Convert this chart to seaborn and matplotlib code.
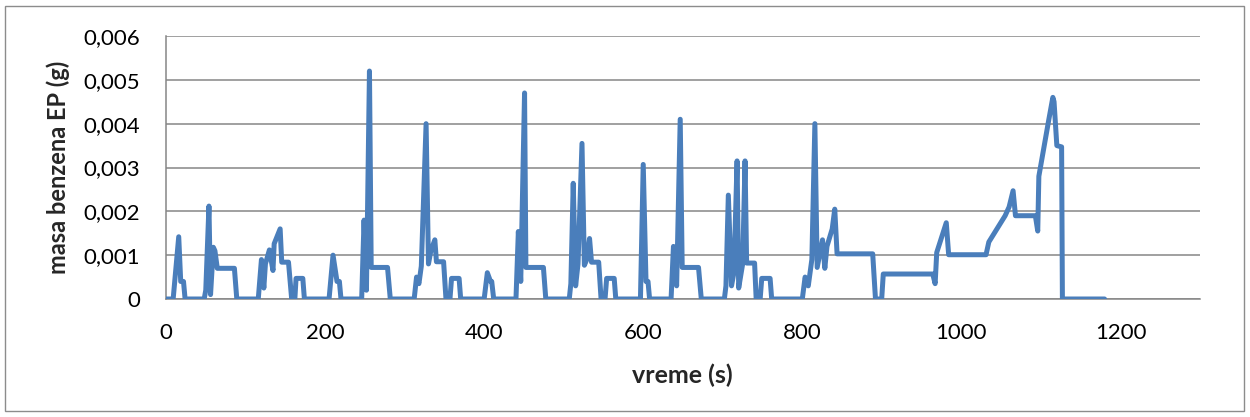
import matplotlib
matplotlib.use("Agg")
import matplotlib.pyplot as plt
from matplotlib.patches import Rectangle
from matplotlib.ticker import FuncFormatter
import seaborn as sns
import pandas as pd

# Benzene mass in the evaporative-emission trap over the test cycle
vreme = [
    0, 9, 16, 18.5, 22, 24,
    48, 50, 54, 56, 59.5, 61.5, 64.5, 86, 89,
    116, 120, 123, 125, 130, 134.5, 136, 143.5, 145.5, 154, 158,
    162, 163.5, 172, 174,
    205, 210, 215, 218, 220,
    246, 249, 252, 255.8, 258, 278.5, 282,
    312, 315, 318, 321, 327, 330, 333, 338, 340, 349, 352,
    357, 359, 368.5, 370.5,
    400, 404, 408, 409.5, 412,
    440, 443, 446, 450.8, 452.5, 474.5, 477.5,
    507, 509, 512, 515, 518, 523, 526, 529, 532.5, 535, 544, 547,
    552, 554, 563.5, 565.5,
    596.5, 600, 603.5, 606, 608,
    635, 638, 642, 646.5, 649, 669.5, 673,
    702, 704, 707, 711, 714, 718, 720, 725, 728, 730, 740, 742,
    747, 749, 759.5, 761.5,
    800, 803.5, 807.5, 812, 815.8, 818.7, 825.4, 828.3, 831, 837.6, 840.8, 843.7,
    888.5, 892, 899.8, 901.8, 964, 967, 969, 981, 984, 1031, 1034.5, 1055, 1060,
    1065, 1068, 1093, 1096, 1097.4, 1110, 1115, 1116.5, 1120, 1126, 1127, 1180,
]
masa = [
    0, 0, 0.00142, 0.0004, 0.0004, 0,
    0, 0.0002, 0.00212, 0.0001, 0.00118, 0.0011, 0.0007, 0.0007, 0,
    0, 0.0009, 0.00025, 0.0008, 0.00112, 0.00065, 0.00126, 0.0016, 0.00084, 0.00084, 0,
    0, 0.00047, 0.00047, 0,
    0, 0.001, 0.0004, 0.0004, 0,
    0, 0.0018, 0.0002, 0.0052, 0.00072, 0.00072, 0,
    0, 0.0005, 0.00035, 0.00075, 0.004, 0.0008, 0.0011, 0.00135, 0.00085, 0.00085, 0,
    0, 0.00047, 0.00047, 0,
    0, 0.0006, 0.0004, 0.0004, 0,
    0, 0.00154, 0.0004, 0.0047, 0.00072, 0.00072, 0,
    0, 0.00035, 0.00264, 0.0003, 0.0008, 0.00355, 0.00077, 0.0009, 0.00138, 0.00084, 0.00084, 0,
    0, 0.00047, 0.00047, 0,
    0, 0.00307, 0.0004, 0.0004, 0,
    0, 0.0012, 0.0003, 0.0041, 0.00072, 0.00072, 0,
    0, 0.0003, 0.00237, 0.0003, 0.0006, 0.00315, 0.00025, 0.0008, 0.00315, 0.00082, 0.00082, 0,
    0, 0.00047, 0.00047, 0,
    0, 0.0005, 0.0003, 0.0009, 0.004, 0.00072, 0.00135, 0.0007, 0.0012, 0.0016, 0.00205, 0.00103,
    0.00103, 0, 0, 0.00057, 0.00057, 0.00035, 0.00106, 0.00174, 0.00101, 0.00101, 0.0013, 0.0019, 0.0021,
    0.00247, 0.0019, 0.0019, 0.00155, 0.0028, 0.0041, 0.0046, 0.0045, 0.0035, 0.00347, 0, 0,
]

x_ticks = [0, 200, 400, 600, 800, 1000, 1200]
y_ticks = [0, 0.001, 0.002, 0.003, 0.004, 0.005, 0.006]

df = pd.DataFrame({"vreme (s)": vreme, "masa benzena EP (g)": masa})

sns.set_theme(style="white")
plt.rcParams["font.family"] = ["Lato", "DejaVu Sans"]

W, H = 1250, 417
fig = plt.figure(figsize=(W / 100, H / 100), dpi=100)
fig.patch.set_facecolor("white")

# chart-area frame
fig.add_artist(Rectangle((5 / W, 6 / H), 1239 / W, 405 / H, transform=fig.transFigure,
                         fill=False, edgecolor="#8c8c8c", linewidth=1.0))

ax = fig.add_axes([166 / W, 1 - 299 / H, (1200 - 166) / W, (299 - 36) / H])

sns.lineplot(data=df, x="vreme (s)", y="masa benzena EP (g)", ax=ax, color="#4a7ebb",
             linewidth=3.6, sort=False, estimator=None,
             solid_joinstyle="round", solid_capstyle="round", zorder=3)

ax.set_xlim(0, 1300)
ax.set_ylim(0, 0.006)
ax.set_xticks(x_ticks)
ax.set_yticks(y_ticks)
ax.yaxis.set_major_formatter(FuncFormatter(
    lambda v, p: "0" if abs(v) < 1e-12 else f"{v:.3f}".replace(".", ",")))
ax.xaxis.set_major_formatter(FuncFormatter(lambda v, p: f"{int(round(v))}"))

ax.grid(axis="y", color="#868686", linewidth=1.1)
ax.grid(axis="x", visible=False)
ax.set_axisbelow(True)
for side in ("top", "right"):
    ax.spines[side].set_visible(False)
for side in ("left", "bottom"):
    ax.spines[side].set_color("#868686")
    ax.spines[side].set_linewidth(1.1)

ax.tick_params(axis="both", length=0, labelsize=16, colors="black")
ax.tick_params(axis="x", pad=17)
ax.tick_params(axis="y", pad=18.5)

ax.set_xlabel("vreme (s)", fontsize=18, fontweight="bold", va="center")
ax.xaxis.set_label_coords(0.499, -0.289)
ax.set_ylabel("masa benzena EP (g)", fontsize=17, fontweight="bold", va="center")
ax.yaxis.set_label_coords(-0.1044, 0.5)

fig.savefig("out.png", dpi=100, facecolor="white")
